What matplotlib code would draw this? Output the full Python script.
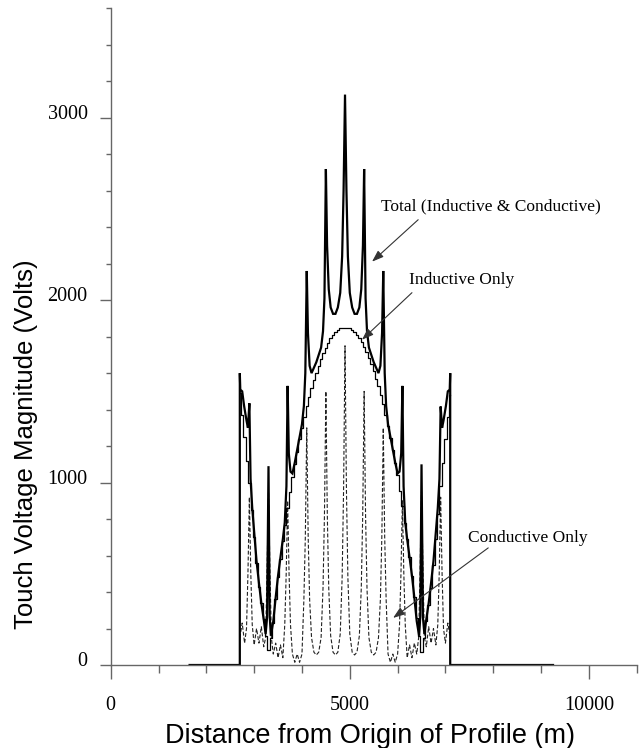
import numpy as np
import matplotlib.pyplot as plt
import matplotlib.transforms as mtransforms
from matplotlib.ticker import MultipleLocator

# inductive only: stepped profile, one value every 50 m from 2700 to 7100
ind_x = np.arange(2700, 7101, 50)
ind_v = [1490, 1370, 1250, 1120, 1000, 850, 700, 560, 430, 340,
         250, 160, 80, 150, 230, 360, 480, 580, 680, 770,
         860, 950, 1030, 1100, 1170, 1240, 1300, 1360, 1420, 1470,
         1520, 1560, 1600, 1640, 1680, 1710, 1740, 1765, 1790, 1810,
         1825, 1835, 1845, 1850, 1850,
         1850, 1845, 1835, 1825, 1808, 1790, 1768, 1745, 1715, 1685,
         1650, 1610, 1570, 1530, 1480, 1430, 1370, 1310, 1245, 1180,
         1110, 1040, 955, 870, 780, 690, 590, 490, 375, 260,
         160, 70, 150, 240, 330, 420, 550, 690, 830, 980,
         1110, 1240, 1360, 1480]

# conductive only
cond_x = [2700, 2750, 2800, 2840, 2870, 2900, 2930, 2960, 3000, 3050,
          3100, 3150, 3200, 3240, 3270, 3300, 3330, 3360, 3400, 3450,
          3500, 3550, 3600, 3640, 3670, 3700, 3730, 3760, 3800, 3850,
          3900, 3950, 4000, 4040, 4070, 4100, 4130, 4160, 4200, 4250,
          4300, 4350, 4400, 4440, 4470, 4500, 4530, 4560, 4600, 4650,
          4700, 4750, 4800, 4840, 4870, 4900,
          4930, 4960, 5000, 5050, 5100, 5150, 5200, 5240, 5270, 5300,
          5330, 5360, 5400, 5450, 5500, 5550, 5600, 5640, 5670, 5700,
          5730, 5760, 5800, 5850, 5900, 5950, 6000, 6040, 6070, 6100,
          6130, 6160, 6200, 6250, 6300, 6350, 6400, 6440, 6470, 6500,
          6530, 6560, 6600, 6650, 6700, 6750, 6800, 6840, 6870, 6900,
          6930, 6960, 7000, 7050, 7100]
cond_v = [150, 230, 120, 200, 500, 920, 500, 220, 110, 200,
          120, 210, 100, 150, 520, 950, 520, 150, 60, 120,
          40, 110, 40, 220, 500, 900, 500, 220, 60, 15,
          60, 15, 60, 360, 700, 1300, 700, 360, 150, 70,
          55, 70, 150, 420, 820, 1500, 820, 420, 160, 70,
          55, 70, 170, 480, 960, 1750,
          960, 480, 170, 70, 55, 70, 160, 420, 820, 1500,
          820, 420, 150, 70, 55, 70, 150, 360, 700, 1300,
          700, 360, 60, 15, 60, 15, 60, 220, 500, 900,
          500, 220, 40, 110, 40, 120, 60, 150, 520, 950,
          520, 150, 100, 210, 120, 200, 110, 220, 500, 920,
          500, 200, 120, 230, 150]

# total (inductive & conductive)
tot_x = [1650, 2700, 2700, 2710, 2750, 2790, 2840, 2870, 2900, 2925,
         2960, 3000, 3050, 3100, 3150, 3200, 3240, 3270, 3300, 3325,
         3350, 3400, 3450, 3500, 3550, 3600, 3640, 3675, 3700, 3725,
         3760, 3800, 3850, 3900, 3950, 4000, 4040, 4070, 4100, 4125,
         4160, 4200, 4250, 4300, 4350, 4400, 4440, 4470, 4500, 4525,
         4560, 4600, 4650, 4700, 4750, 4800, 4840, 4870, 4900,
         4930, 4960, 5000, 5050, 5100, 5150, 5200, 5240, 5275, 5300,
         5330, 5360, 5400, 5450, 5500, 5550, 5600, 5640, 5675, 5700,
         5730, 5760, 5800, 5850, 5900, 5950, 6000, 6040, 6075, 6100,
         6125, 6160, 6200, 6250, 6300, 6350, 6400, 6450, 6475, 6500,
         6530, 6560, 6600, 6650, 6700, 6750, 6800, 6840, 6875, 6900,
         6930, 6960, 7010, 7050, 7090, 7100, 7100, 9250]
tot_v = [0, 0, 1600, 1510, 1500, 1420, 1340, 1300, 1435, 1020,
         860, 730, 570, 450, 340, 250, 170, 260, 1090, 270,
         160, 240, 370, 490, 590, 690, 780, 980, 1530, 1160,
         1060, 1050, 1110, 1180, 1250, 1320, 1420, 1600, 2160, 1820,
         1640, 1600, 1630, 1660, 1700, 1740, 1830, 2010, 2719, 2300,
         2060, 1960, 1925, 1925, 1960, 2040, 2240, 2600, 3127,
         2600, 2240, 2040, 1960, 1925, 1925, 1960, 2060, 2300, 2719,
         2010, 1830, 1740, 1700, 1660, 1630, 1600, 1640, 1820, 2160,
         1600, 1420, 1320, 1250, 1180, 1110, 1050, 1060, 1160, 1530,
         980, 780, 690, 590, 490, 370, 240, 160, 270, 1100,
         260, 170, 250, 340, 450, 570, 730, 860, 1020, 1417,
         1300, 1340, 1420, 1500, 1510, 1600, 0, 0]

# annotation anchors (text position, arrow tail, arrow head) in data units
notes = [
    ("Total (Inductive & Conductive)", (7960, 2512), (6430, 2441), (5465, 2211)),
    ("Inductive Only", (7340, 2112), (6300, 2041), (5255, 1783)),
    ("Conductive Only", (8730, 697), (7895, 642), (5905, 258)),
]

serif = "Liberation Serif"
sans = "Liberation Sans"
grey = "#666666"

fig = plt.figure(figsize=(6.4, 7.48), dpi=100)
ax = fig.add_axes([110.7 / 640, 1 - 665 / 748, 526 / 640, 656.7 / 748])

ax.plot(cond_x, cond_v, color="#222222", lw=0.8, ls=(0, (3.5, 1.8)))
ax.plot(ind_x, ind_v, color="black", lw=0.9, drawstyle="steps-mid")
ax.plot(tot_x, tot_v, color="black", lw=1.6, solid_joinstyle="miter")

ax.set_xlim(0, 11000)
ax.set_ylim(0, 3600)

for s in ["top", "right"]:
    ax.spines[s].set_visible(False)
for s in ["left", "bottom"]:
    ax.spines[s].set_color(grey)
    ax.spines[s].set_linewidth(1.0)

ax.xaxis.set_major_locator(MultipleLocator(5000))
ax.xaxis.set_minor_locator(MultipleLocator(1000))
ax.yaxis.set_major_locator(MultipleLocator(1000))
ax.yaxis.set_minor_locator(MultipleLocator(200))
ax.tick_params(axis="x", which="major", length=10, width=1, color=grey, pad=12)
ax.tick_params(axis="x", which="minor", length=5.8, width=1, color=grey)
ax.tick_params(axis="y", which="major", length=7.7, width=1, color=grey, pad=9)
ax.tick_params(axis="y", which="minor", length=3.6, width=1, color=grey)

for lab in ax.get_xticklabels() + ax.get_yticklabels():
    lab.set_fontfamily(serif)
    lab.set_fontsize(14.5)
shift = mtransforms.ScaledTranslation(0, 6 / 100, fig.dpi_scale_trans)
for lab in ax.get_yticklabels():
    lab.set_transform(lab.get_transform() + shift)

fig.text(370 / 640, 1 - 736 / 748, "Distance from Origin of Profile (m)",
         family=sans, fontsize=19.5, ha="center", va="center")
fig.text(26 / 640, 1 - 444 / 748, "Touch Voltage Magnitude (Volts)",
         family=sans, fontsize=18.5, ha="center", va="center", rotation=90)

for label, txt, tail, head in notes:
    ax.text(txt[0], txt[1], label, family=serif, fontsize=12.5,
            ha="center", va="center")
    ax.annotate("", xy=head, xytext=tail,
                arrowprops=dict(arrowstyle="-|>,head_length=0.7,head_width=0.25",
                                color="#333333", lw=0.8, shrinkA=0, shrinkB=0))

fig.savefig("out.png", dpi=100)
